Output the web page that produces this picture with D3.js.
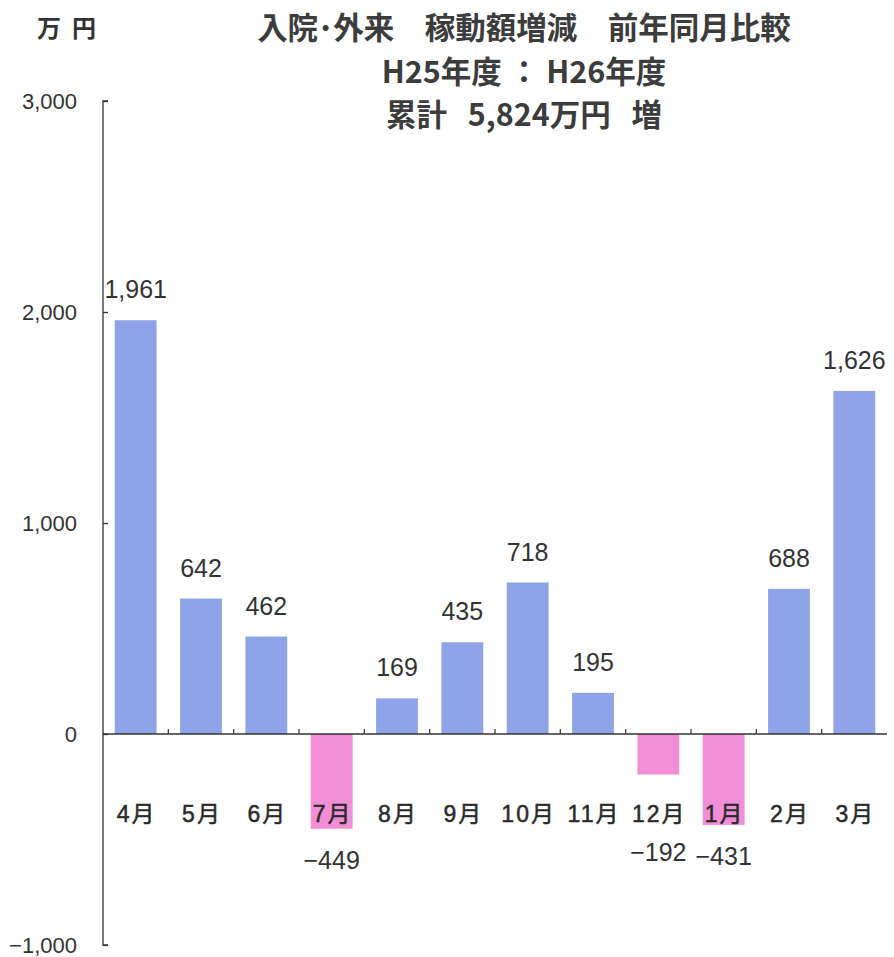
<!DOCTYPE html>
<html><head><meta charset="utf-8">
<script src="https://cdn.jsdelivr.net/npm/d3@7"></script>
<style>body{margin:0;background:#fff}svg{display:block}text{white-space:pre}</style>
</head><body>
<script>
const categories = ["4月","5月","6月","7月","8月","9月","10月","11月","12月","1月","2月","3月"];
const values = [1961, 642, 462, -449, 169, 435, 718, 195, -192, -431, 688, 1626];
const yTicks = [-1000, 0, 1000, 2000, 3000];
const titleLines = ["入院･外来　稼動額増減　前年同月比較", "H25年度 ： H26年度", "累計   5,824万円   増"];
const unitLabel = "万円";

const W = 894, H = 957;
const svg = d3.select("body").append("svg").attr("width", W).attr("height", H);
const left = 103, right = 887;
const x = d3.scaleBand().domain(categories).range([left, right]).paddingInner(0.36).paddingOuter(0.18);
const y = d3.scaleLinear().domain([-1000, 3000]).range([945, 101]);
const fmt = d3.format(",");
const latin = "'Liberation Sans', Arial, 'Noto Sans CJK JP', sans-serif";
const cjk = "'Noto Sans CJK JP', sans-serif";

// bars
svg.selectAll("rect.bar").data(values).enter().append("rect")
  .attr("x", (d,i) => x(categories[i]))
  .attr("width", x.bandwidth())
  .attr("y", d => y(Math.max(0,d)))
  .attr("height", d => Math.abs(y(d) - y(0)))
  .attr("fill", d => d >= 0 ? "#8fa4e8" : "#f28ed6");

// y axis
const yAxis = d3.axisRight(y).tickValues(yTicks).tickSize(5).tickFormat("");
const gy = svg.append("g").attr("transform", `translate(${left},0)`).call(yAxis);
gy.select(".domain").attr("d", `M5,${y(3000)}H0V${y(-1000)}H5`);
gy.selectAll("path,line").attr("stroke", "#333").attr("stroke-width", 1.3);
svg.selectAll("text.ytl").data(yTicks).enter().append("text")
  .attr("x", 77).attr("y", d => y(d) + 8)
  .attr("text-anchor", "end").attr("font-family", latin).attr("font-size", 22).attr("fill", "#333")
  .text(d => fmt(d).replace("-", "−"));

// x axis line (zero) with upward ticks at band boundaries
svg.append("line").attr("x1", left).attr("x2", right).attr("y1", y(0)).attr("y2", y(0))
  .attr("stroke", "#333").attr("stroke-width", 1.3);
const bounds = categories.slice(1).map(c => x(c) - x.step()*x.paddingInner()/2);
svg.selectAll("line.xt").data(bounds).enter().append("line")
  .attr("x1", d => d).attr("x2", d => d).attr("y1", y(0)).attr("y2", y(0) - 5)
  .attr("stroke", "#333").attr("stroke-width", 1.2);

// category labels
svg.selectAll("text.cat").data(categories).enter().append("text")
  .attr("x", d => x(d) + x.bandwidth()/2 + 1).attr("y", 822)
  .attr("text-anchor", "middle").attr("font-family", latin)
  .attr("font-size", 23).attr("fill", "#2a2a2a").attr("stroke", "#2a2a2a").attr("stroke-width", 0.5)
  .attr("letter-spacing", 2)
  .text(d => d);

// value labels
svg.selectAll("text.val").data(values).enter().append("text")
  .attr("x", (d,i) => x(categories[i]) + x.bandwidth()/2)
  .attr("y", d => d >= 0 ? y(d) - 22 : Math.max(y(d) + 40, y(-600)))
  .attr("text-anchor", "middle").attr("font-family", latin).attr("font-size", 25).attr("fill", "#333")
  .text(d => fmt(d).replace("-", "−"));

// titles
svg.append("text").attr("x", 37).attr("y", 37).attr("text-anchor", "start")
  .attr("font-family", cjk).attr("font-weight", 700).attr("font-size", 24).attr("fill", "#333")
  .attr("letter-spacing", 11).text(unitLabel);
const ty = [39, 83, 126];
titleLines.forEach((t, i) => {
  svg.append("text").attr("x", 524).attr("y", ty[i]).attr("text-anchor", "middle")
    .attr("font-family", cjk).attr("font-weight", 700).attr("font-size", 30.5).attr("fill", "#3c3c3c")
    .text(t);
});
</script>
</body></html>
